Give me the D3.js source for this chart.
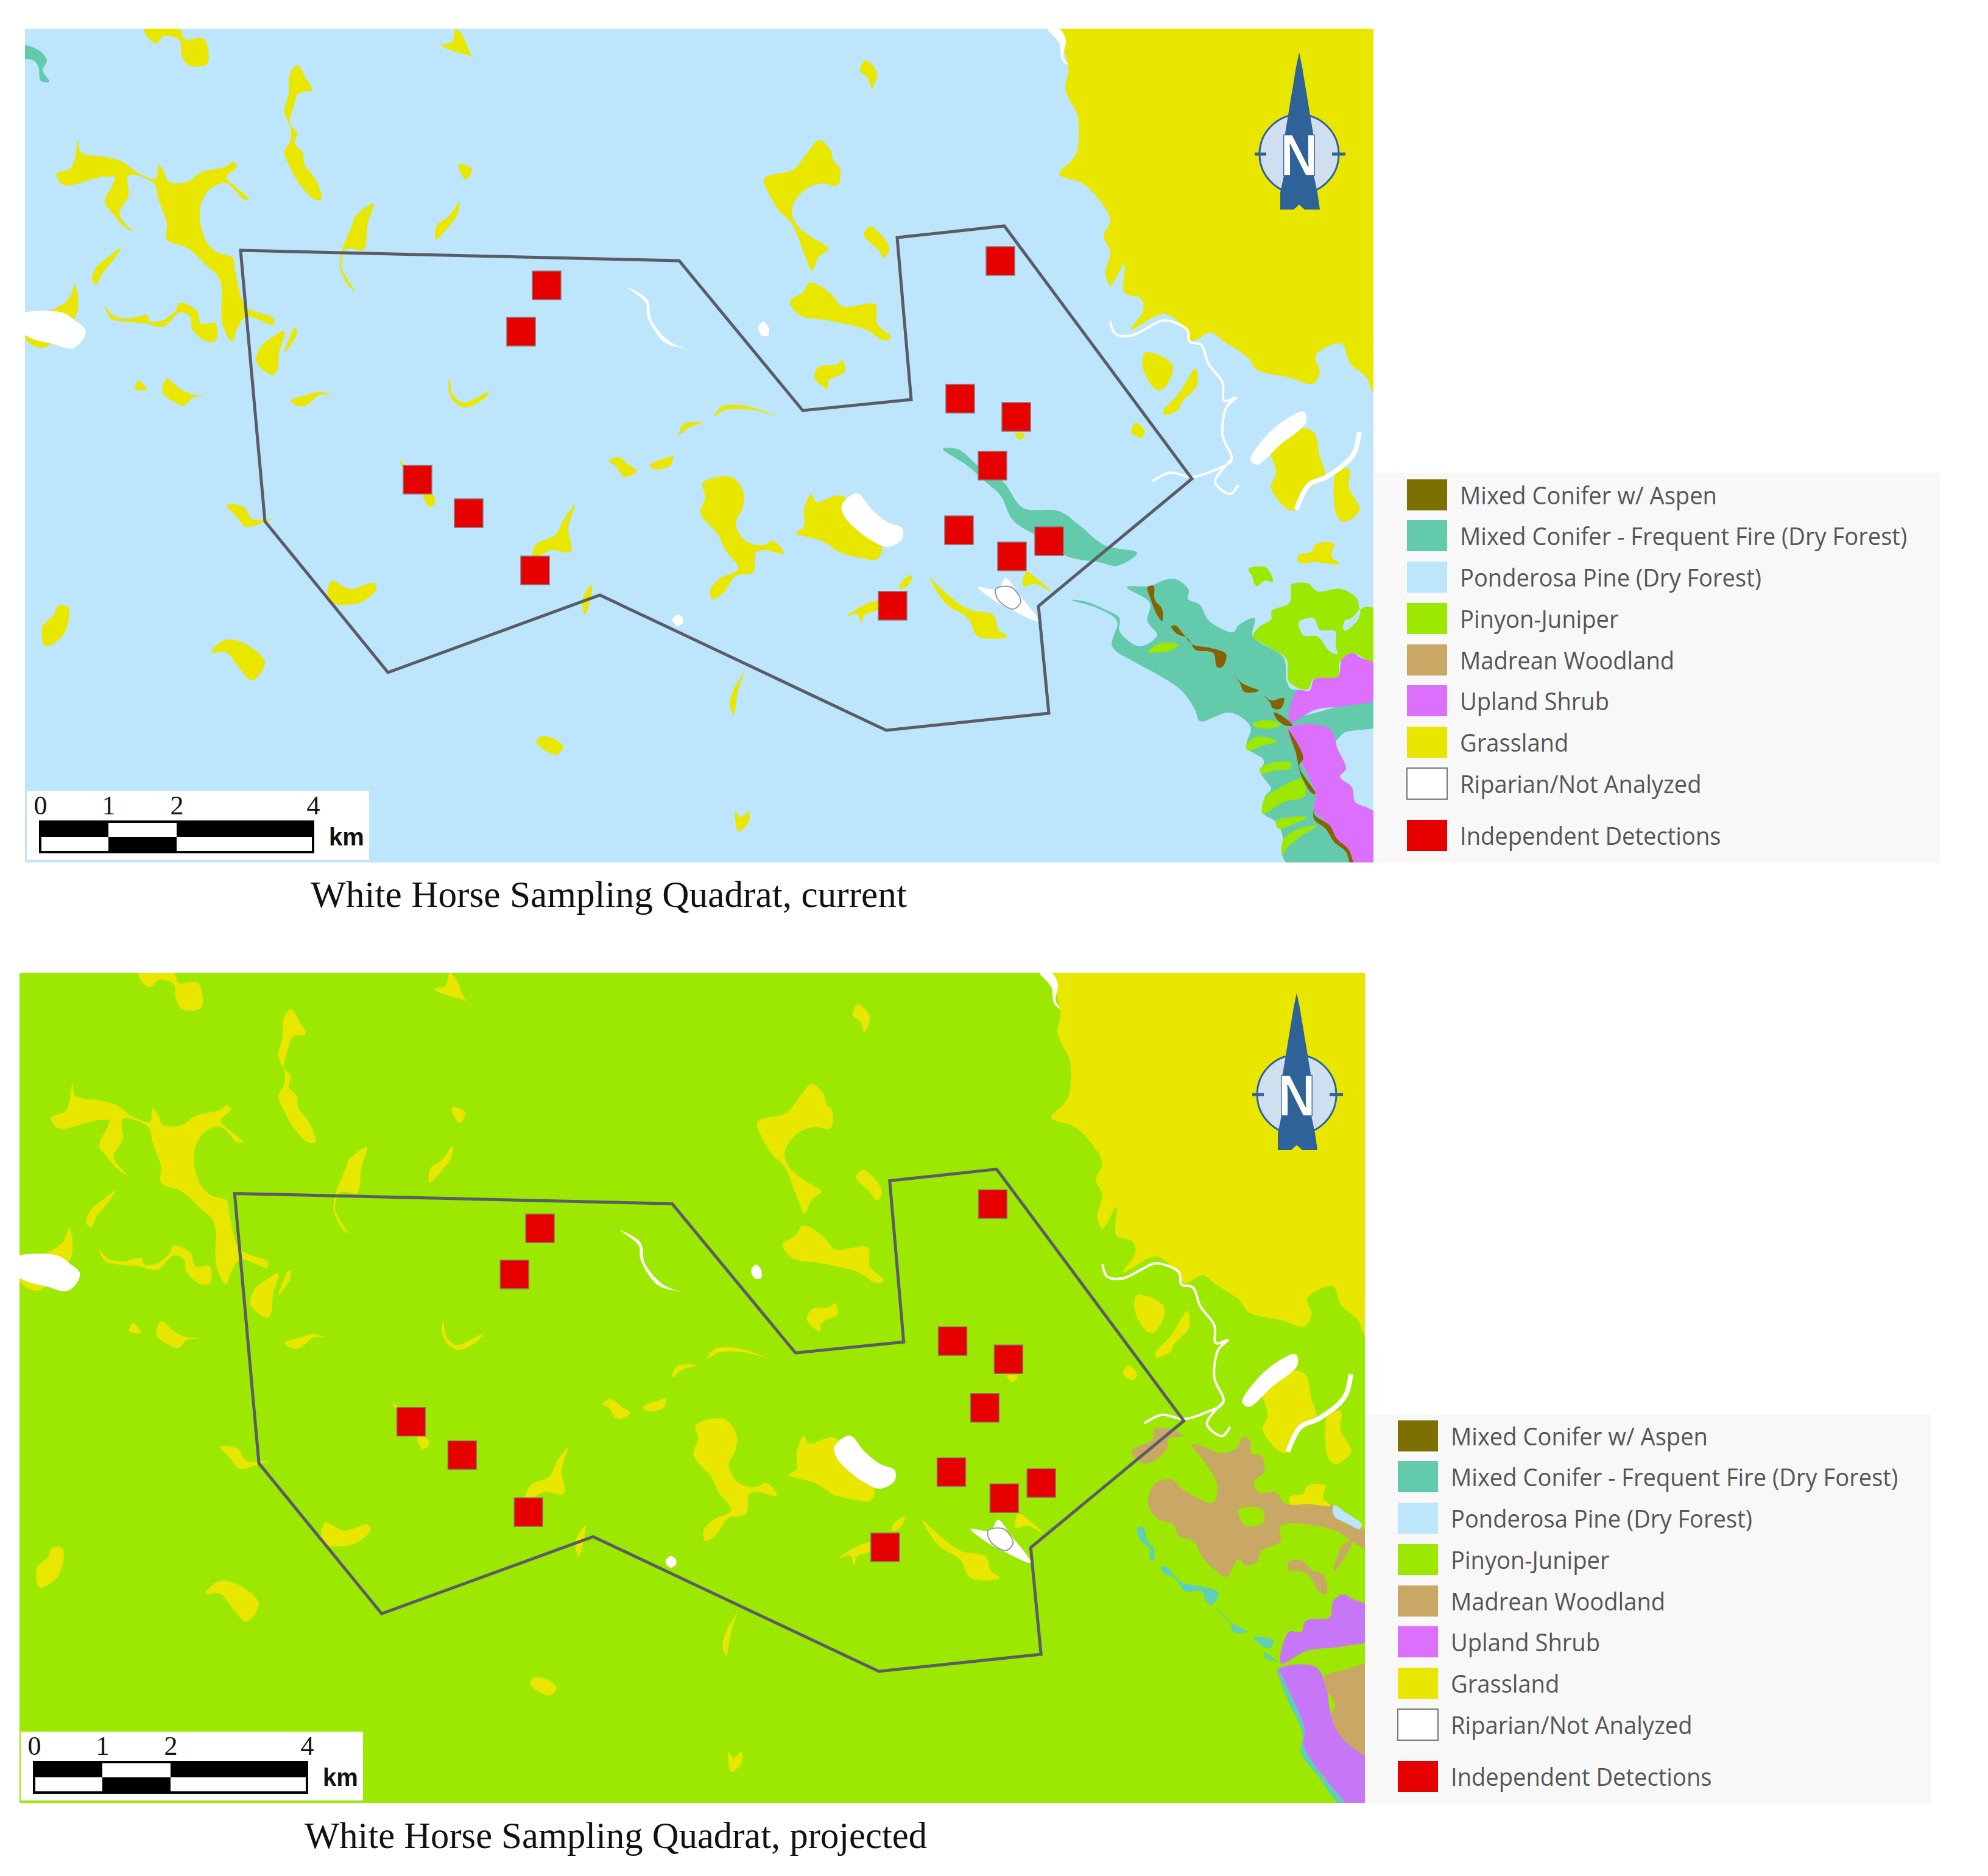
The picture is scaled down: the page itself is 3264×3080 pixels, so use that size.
<!DOCTYPE html>
<html>
<head>
<meta charset="utf-8">
<title>White Horse Sampling Quadrat</title>
<script src="https://cdn.jsdelivr.net/npm/d3@7"></script>
<style>
  html, body { margin: 0; background: #fff; }
  svg { display: block; }
  .caption { font-family: "Liberation Serif", serif; font-size: 62px; fill: #111; }
  .legend-label { font-family: "Open Sans", sans-serif; font-size: 41px; fill: #555; }
  .km-label { font-family: "Liberation Serif", serif; font-size: 44px; fill: #111; }
  .km-unit { font-family: "Liberation Sans", sans-serif; font-size: 40px; font-weight: bold; fill: #111; }
</style>
</head>
<body>
<div id="chart"></div>
<script>
// Legend
const legendLabels = ['Mixed Conifer w/ Aspen', 'Mixed Conifer - Frequent Fire (Dry Forest)', 'Ponderosa Pine (Dry Forest)',
    'Pinyon-Juniper', 'Madrean Woodland', 'Upland Shrub', 'Grassland', 'Riparian/Not Analyzed', 'Independent Detections'];
const legendColors = ['#7b7000', '#63cbac', '#bde5fc', '#9ce800', '#c9a866', '#dc6ffb', '#e9e600', '#ffffff', '#e60000'];
const legendRowY = [812, 879, 947, 1015, 1083, 1150, 1218, 1286, 1371];

const captions = ['White Horse Sampling Quadrat, current', 'White Horse Sampling Quadrat, projected'];
const scaleBarKm = [0, 1, 2, 4];

const quadratBoundary = [[395,411],[1115,428],[1318,674],[1496,656],[1473,390],[1649,371],[1957,786],[1705,995],[1722,1171],[1455,1199],[985,977],[637,1104],[435,856]];

const detections = [[898,469],[856,545],[686,788],[770,843],[879,937],[1643,429],[1577,655],[1669,685],[1630,765],[1575,871],[1723,889],[1662,914],[1466,995]];

const grassland = [
    [[237,48],[295,48],[303,64],[335,64],[340,105],[309,107],[298,89],[295,66],[270,59],[256,71],[242,61]],
    [[749,47],[761,61],[775,92],[787,101],[772,92],[744,84],[724,74],[742,69]],
    [[488,107],[502,128],[512,148],[491,153],[481,179],[476,202],[488,219],[484,235],[497,250],[500,270],[519,296],[528,327],[516,327],[491,301],[477,276],[467,250],[477,230],[477,209],[467,184],[474,153],[476,122]],
    [[128,230],[133,250],[175,258],[200,265],[225,283],[256,293],[260,270],[270,283],[277,298],[309,298],[330,283],[372,273],[382,265],[389,273],[372,291],[386,306],[409,327],[400,327],[372,301],[351,306],[333,327],[328,357],[337,393],[354,413],[382,423],[386,444],[404,503],[449,523],[449,533],[404,520],[389,541],[381,561],[365,531],[361,459],[337,434],[309,408],[274,393],[274,367],[260,327],[253,301],[211,288],[211,321],[196,352],[218,380],[204,372],[182,347],[172,332],[186,301],[189,291],[165,291],[105,304],[93,286],[116,276],[123,260]],
    [[199,406],[189,423],[168,449],[158,467],[151,459],[158,439],[179,421]],
    [[123,467],[112,492],[81,510],[42,515],[42,556],[70,571],[126,515]],
    [[172,503],[186,518],[211,523],[242,518],[246,528],[267,526],[288,510],[295,497],[323,510],[330,531],[354,531],[354,559],[340,561],[316,541],[312,520],[295,513],[270,536],[256,536],[239,531],[204,528],[182,523]],
    [[467,543],[458,580],[456,605],[449,616],[421,594],[428,569],[445,555]],
    [[484,538],[488,545],[481,561],[467,579],[475,555]],
    [[228,625],[241,640],[221,638]],
    [[274,622],[295,638],[316,648],[337,650],[316,653],[302,666],[288,661],[267,645]],
    [[477,658],[505,648],[526,643],[544,649],[526,648],[502,666],[488,666]],
    [[738,620],[744,648],[761,661],[786,651],[804,642],[796,653],[765,669],[747,661],[737,643]],
    [[753,269],[775,278],[765,295],[756,283]],
    [[754,332],[751,352],[730,380],[716,393],[717,370],[737,355]],
    [[613,334],[604,367],[600,403],[596,411],[572,408],[565,413],[561,439],[582,477],[572,469],[558,439],[561,413],[579,367],[582,357]],
    [[1739,47],[1750,92],[1754,117],[1749,143],[1758,168],[1769,189],[1768,250],[1758,265],[1739,286],[1777,301],[1804,327],[1823,362],[1812,388],[1823,413],[1815,449],[1823,469],[1846,434],[1846,480],[1873,490],[1877,510],[1857,541],[1911,515],[1942,536],[1957,559],[1988,546],[2010,561],[2049,587],[2064,607],[2118,620],[2156,630],[2167,610],[2160,584],[2202,564],[2217,597],[2244,620],[2255,645],[2270,645],[2270,30],[1739,30]],
    [[1421,99],[1440,120],[1431,145],[1425,128],[1412,116]],
    [[1345,230],[1364,247],[1368,263],[1379,276],[1375,304],[1349,301],[1326,309],[1307,327],[1300,347],[1307,367],[1330,388],[1360,408],[1345,421],[1333,444],[1322,421],[1300,367],[1280,347],[1264,321],[1255,293],[1303,278],[1326,250]],
    [[1429,372],[1460,406],[1452,423],[1440,408],[1418,385]],
    [[1330,464],[1364,482],[1383,503],[1437,500],[1440,531],[1463,554],[1452,559],[1421,541],[1360,526],[1314,518],[1297,495],[1318,480]],
    [[1383,592],[1387,610],[1360,625],[1359,638],[1337,620],[1345,602],[1372,599]],
    [[1173,684],[1184,668],[1222,666],[1276,684],[1234,673],[1192,673]],
    [[1115,714],[1123,696],[1154,694],[1131,702]],
    [[1014,750],[1032,763],[1046,773],[1025,783],[1011,765],[1000,758]],
    [[1100,750],[1105,748],[1100,765],[1074,770],[1067,763]],
    [[372,829],[400,832],[414,852],[449,852],[432,858],[404,865],[389,849]],
    [[944,829],[933,867],[937,906],[905,903],[884,913],[874,913],[881,893],[912,878],[926,852]],
    [[695,812],[712,814],[714,827],[705,832]],
    [[656,755],[667,765],[680,768],[662,768]],
    [[544,954],[575,967],[614,957],[618,967],[589,990],[540,987]],
    [[972,959],[972,969],[961,1010],[956,985]],
    [[95,995],[112,997],[105,1041],[74,1061],[70,1028],[88,1010]],
    [[368,1051],[396,1054],[435,1087],[414,1117],[393,1097],[372,1071],[347,1071]],
    [[888,1209],[912,1214],[925,1227],[912,1239],[881,1219]],
    [[1200,783],[1220,806],[1220,832],[1208,860],[1224,888],[1253,895],[1270,888],[1287,909],[1253,903],[1241,908],[1237,939],[1208,946],[1187,974],[1170,984],[1166,969],[1183,949],[1212,934],[1191,903],[1179,878],[1150,842],[1158,816],[1154,793]],
    [[1332,811],[1340,824],[1382,814],[1448,898],[1440,918],[1415,916],[1382,908],[1349,888],[1307,875],[1320,865],[1320,837]],
    [[1498,944],[1490,962],[1477,967],[1481,954]],
    [[1390,1013],[1415,995],[1442,987],[1442,1000],[1419,1010],[1415,1023],[1407,1008]],
    [[1527,949],[1548,969],[1589,1000],[1631,1010],[1639,1033],[1654,1045],[1606,1045],[1589,1015],[1552,990]],
    [[1685,939],[1705,952],[1726,972],[1701,959],[1680,962]],
    [[1223,1099],[1212,1133],[1204,1173],[1198,1158],[1204,1133],[1216,1112]],
    [[1229,1332],[1229,1350],[1212,1365],[1208,1332],[1216,1342]],
    [[1880,579],[1911,587],[1926,602],[1911,638],[1899,640],[1877,607]],
    [[1963,605],[1965,633],[1942,658],[1934,673],[1911,681],[1911,673],[1934,648]],
    [[1865,694],[1880,709],[1873,719],[1857,709]],
    [[1666,712],[1683,712],[1675,722]],
    [[2129,704],[2156,709],[2167,750],[2175,781],[2145,806],[2128,837],[2116,837],[2087,801],[2095,776],[2087,740],[2105,725]],
    [[2195,773],[2215,770],[2215,801],[2232,837],[2207,857],[2195,847],[2190,791]],
    [[2161,893],[2190,893],[2186,913],[2199,926],[2161,923],[2132,923],[2132,911],[2153,906]]
];

const riparian = [
    [[30,518],[102,513],[123,526],[140,541],[137,556],[119,572],[84,564],[53,556],[30,541]],
    [[1720,47],[1739,47],[1750,66],[1746,92],[1754,107],[1743,97],[1739,71]],
    [[1030,472],[1063,492],[1070,526],[1100,561],[1131,574],[1123,572],[1091,562],[1063,520],[1060,497]],
    [[1253,528],[1262,538],[1261,551],[1251,551],[1245,538]],
    [[1382,829],[1407,810],[1432,837],[1457,857],[1481,867],[1481,885],[1457,898],[1432,888],[1407,870],[1386,847]],
    [[1606,964],[1639,967],[1651,949],[1672,974],[1705,1020],[1664,1003],[1631,985]],
    [[1104,1018],[1112,1009],[1121,1014],[1121,1023],[1112,1028]],
    [[2141,676],[2144,694],[2102,730],[2064,763],[2053,755],[2076,719],[2110,689]]
];
const riparianOutline = [[1635,967],[1660,964],[1676,987],[1664,1000],[1639,985]];

const rivers = [
    [[1823,528],[1831,548],[1857,551],[1888,536],[1911,526],[1949,541],[1953,561],[1972,566],[1984,597],[2007,628],[2010,658],[2029,653],[2014,668],[2007,714],[2022,755],[1991,773],[1957,783],[1921,776],[1892,790]],
    [[2022,755],[1995,791],[2020,811],[2033,796]],
    [[2232,709],[2225,740],[2215,755],[2178,783],[2149,796],[2128,837]]
];

// Upper map only
const dryForestCurrent = [
    [[30,74],[63,82],[77,99],[70,115],[81,134],[67,133],[63,110],[55,99],[30,94]],
    [[1548,737],[1574,738],[1606,765],[1647,791],[1680,834],[1738,839],[1772,862],[1813,895],[1867,908],[1834,929],[1805,923],[1751,913],[1722,890],[1664,855],[1643,814],[1618,791],[1589,765]],
    [[1850,964],[1888,962],[1913,952],[1933,952],[1952,969],[1950,983],[1970,993],[1983,1017],[2003,1031],[2025,1038],[2033,1027],[2060,1015],[2057,1045],[2107,1079],[2113,1120],[2120,1131],[2133,1134],[2117,1175],[2270,1148],[2270,1189],[2207,1203],[2193,1215],[2180,1196],[2117,1196],[2140,1258],[2160,1303],[2157,1330],[2183,1355],[2193,1379],[2217,1399],[2223,1430],[2127,1430],[2105,1403],[2107,1379],[2097,1351],[2073,1334],[2078,1306],[2087,1296],[2070,1268],[2075,1248],[2047,1227],[2053,1193],[2020,1170],[1970,1184],[1962,1165],[1940,1134],[1900,1107],[1863,1087],[1826,1061],[1834,1020],[1805,1000],[1759,985],[1780,987],[1813,1000],[1838,1015],[1838,1036],[1871,1061],[1900,1043],[1884,1020],[1888,990]]
];
const pinyonCurrent = [
    [[2050,934],[2077,931],[2087,943],[2090,955],[2077,953],[2063,962],[2055,945]],
    [[2120,960],[2123,958],[2148,958],[2163,971],[2202,967],[2228,983],[2233,1000],[2243,996],[2270,1007],[2270,1098],[2233,1077],[2220,1072],[2200,1086],[2197,1110],[2157,1115],[2147,1132],[2117,1120],[2112,1082],[2087,1064],[2057,1045],[2068,1029],[2087,1017],[2088,1003],[2117,990]],
    [[2057,1189],[2077,1182],[2103,1189],[2087,1196],[2063,1194]],
    [[2045,1227],[2057,1212],[2077,1210],[2097,1218],[2073,1224],[2050,1232]],
    [[2068,1263],[2080,1255],[2117,1251],[2120,1261],[2093,1265],[2073,1270]],
    [[2077,1310],[2097,1296],[2137,1279],[2143,1306],[2107,1317],[2073,1336]],
    [[2095,1348],[2147,1341],[2120,1355],[2100,1361]],
    [[2107,1379],[2127,1363],[2163,1355],[2137,1372],[2113,1392],[2105,1404]],
    [[1884,1071],[1900,1058],[1917,1055],[1935,1058],[1920,1069],[1900,1071]]
];
const ponderosaInPinyon = [
    [[2233,1000],[2220,1014],[2207,1020],[2207,1036],[2230,1017]],
    [[2133,1021],[2157,1015],[2167,1034],[2192,1036],[2193,1062],[2197,1074],[2183,1069],[2163,1045],[2140,1043]]
];
const uplandNorth = [[2220,1072],[2233,1079],[2270,1098],[2270,1144],[2217,1158],[2160,1165],[2117,1186],[2130,1134],[2150,1134],[2158,1115],[2197,1110],[2203,1083]];
const uplandCurrent = [[2117,1196],[2180,1194],[2193,1215],[2195,1227],[2210,1262],[2200,1275],[2220,1293],[2225,1317],[2247,1327],[2270,1344],[2270,1430],[2223,1430],[2217,1399],[2193,1379],[2183,1355],[2157,1330],[2160,1303],[2140,1258]];
const aspenCurrent = [
    [[1884,964],[1894,962],[1896,985],[1908,1000],[1908,1020],[1900,1010],[1888,980]],
    [[1923,1029],[1930,1027],[1943,1041],[1958,1058],[1988,1064],[2013,1074],[2007,1095],[1998,1095],[1992,1072],[1963,1067],[1950,1048],[1933,1041]],
    [[2015,1098],[2040,1122],[2067,1134],[2043,1136],[2035,1120]],
    [[2075,1141],[2087,1150],[2108,1146],[2103,1163],[2090,1163],[2085,1153]],
    [[2092,1170],[2103,1174],[2122,1191],[2110,1191],[2095,1179]],
    [[2115,1198],[2140,1244],[2133,1258],[2160,1303],[2155,1303],[2137,1275],[2127,1234]],
    [[2160,1317],[2158,1337],[2183,1355],[2195,1377],[2215,1396],[2223,1430],[2220,1430],[2210,1399],[2190,1382],[2177,1361],[2157,1344]]
];

// Lower map only
const madreanProjected = [
    [[1909,799],[1940,801],[1955,811],[1932,815],[1930,830],[1915,847],[1898,856],[1886,854],[1871,837],[1894,823],[1905,818]],
    [[1970,825],[1993,830],[2016,839],[2043,832],[2054,813],[2066,818],[2068,839],[2085,844],[2089,870],[2072,887],[2081,904],[2108,904],[2125,923],[2200,923],[2211,947],[2238,961],[2270,971],[2270,1002],[2234,985],[2204,966],[2116,959],[2116,985],[2085,1000],[2077,1019],[2058,1024],[2047,1014],[2028,1043],[2016,1038],[1986,1009],[1974,985],[1949,976],[1940,957],[1913,947],[1898,921],[1909,890],[1936,882],[1955,899],[2005,921],[2012,904],[2008,880],[1986,847]],
    [[2204,1033],[2219,990],[2234,985],[2223,1009],[2206,1033]],
    [[2129,1019],[2150,1016],[2169,1033],[2186,1038],[2192,1071],[2179,1067],[2160,1038],[2142,1033],[2131,1033]]
];
const pinyonHoleProjected = [[2047,933],[2070,928],[2087,933],[2087,954],[2058,959]];
const ponderosaProjected = [[2204,925],[2223,937],[2250,957],[2246,964],[2223,954],[2206,945],[2202,935]];
const uplandProjected = [[2112,1196],[2173,1191],[2190,1220],[2200,1272],[2223,1315],[2270,1342],[2270,1430],[2221,1430],[2188,1373],[2156,1339],[2152,1299],[2135,1253],[2119,1220]];
const madreanSouthProjected = [[2188,1208],[2223,1196],[2270,1189],[2270,1339],[2223,1315],[2200,1272],[2206,1253],[2192,1229]];
const dryForestProjected = [
    [[2112,1196],[2127,1224],[2156,1296],[2154,1320],[2185,1371],[2221,1416],[2211,1416],[2179,1373],[2150,1334],[2152,1301],[2131,1253],[2116,1215]],
    [[1880,964],[1890,961],[1898,985],[1907,995],[1907,1016],[1901,1016],[1901,997],[1886,983]],
    [[1919,1028],[1928,1026],[1953,1052],[1986,1059],[2014,1069],[2003,1090],[1993,1083],[1986,1067],[1959,1067],[1940,1043],[1924,1038]],
    [[2009,1093],[2035,1119],[2062,1134],[2039,1134],[2031,1114]],
    [[2072,1143],[2104,1148],[2100,1160],[2087,1158]],
    [[2089,1167],[2112,1184],[2104,1181],[2091,1177]]
];

const width = 3264;
const height = 3080;
const ink = '#2e6299';
const aspenMapColor = '#866200';
const color = d3.scaleOrdinal(legendLabels, legendColors);

const svg = d3.select('#chart')
    .append('svg')
    .attr('width', width)
    .attr('height', height)
    .attr('viewBox', `0 0 ${width} ${height}`);

/**
 * Fills a list of closed outlines in one colour
 */
const drawPatches = (layer, patches, fill, line) => {
    layer.append('g')
        .selectAll('path')
        .data(patches)
        .enter()
        .append('path')
        .attr('d', line)
        .attr('fill', fill);
}

const drawScaleBar = (layer) => {
    const km = d3.scaleLinear().domain([0, 4]).range([66, 514]);
    layer.append('rect')
        .attr('x', 44).attr('y', 1299)
        .attr('width', 562).attr('height', 113)
        .attr('fill', 'white');

    layer.append('g')
        .attr('transform', 'translate(0,1349)')
        .call(d3.axisTop(km).tickValues(scaleBarKm).tickFormat(d3.format('d')).tickSize(0).tickPadding(12))
        .call(g => g.select('.domain').remove())
        .selectAll('text')
        .attr('class', 'km-label')
        .attr('font-family', null)
        .attr('font-size', null)
        .attr('fill', null);

    const segments = d3.pairs(scaleBarKm);
    [0, 1].forEach((row) => {
        layer.append('g')
            .selectAll('rect')
            .data(segments)
            .enter()
            .append('rect')
            .attr('x', d => km(d[0]))
            .attr('y', 1349 + row * 25)
            .attr('width', d => km(d[1]) - km(d[0]))
            .attr('height', 25)
            .attr('fill', (d, i) => (i + row) % 2 === 0 ? 'black' : 'white');
    });
    layer.append('rect')
        .attr('x', km(0)).attr('y', 1349)
        .attr('width', km(4) - km(0)).attr('height', 50)
        .attr('fill', 'none').attr('stroke', 'black').attr('stroke-width', 4);

    layer.append('text')
        .attr('class', 'km-unit')
        .attr('x', 540).attr('y', 1388)
        .text('km');
}

const drawNorthArrow = (layer) => {
    layer.append('circle')
        .attr('cx', 2133).attr('cy', 253).attr('r', 65)
        .attr('fill', '#cfdff0').attr('stroke', ink).attr('stroke-width', 3);
    layer.append('path')
        .attr('d', 'M2060,253H2079M2187,253H2209')
        .attr('stroke', ink).attr('stroke-width', 5);
    layer.append('path')
        .attr('d', 'M2133,86L2138,110L2156,219L2157,288L2163,316L2167,344L2142,344L2133,336L2124,344L2102,344L2102,316L2108,288L2110,219L2128,110Z')
        .attr('fill', ink);
    layer.append('text')
        .attr('x', 2133).attr('y', 288)
        .attr('text-anchor', 'middle')
        .attr('font-family', '"Liberation Sans", sans-serif')
        .attr('font-weight', 'bold')
        .attr('font-size', 97)
        .attr('textLength', 62)
        .attr('lengthAdjust', 'spacingAndGlyphs')
        .attr('fill', 'white')
        .attr('stroke', ink)
        .attr('stroke-width', 1.5)
        .text('N');
}

const drawLegend = (layer) => {
    layer.append('rect')
        .attr('x', 2256).attr('y', 777)
        .attr('width', 929).attr('height', 640)
        .attr('fill', '#f8f8f8');

    const rows = layer.selectAll('g.row')
        .data(legendLabels)
        .enter()
        .append('g')
        .attr('class', 'row')
        .attr('transform', (d, i) => `translate(0,${legendRowY[i]})`);

    rows.append('rect')
        .attr('x', 2310).attr('y', -25)
        .attr('width', 66).attr('height', 51)
        .attr('fill', d => color(d))
        .attr('stroke', d => d === 'Riparian/Not Analyzed' ? '#777' : 'none')
        .attr('stroke-width', 2);

    rows.append('text')
        .attr('class', 'legend-label')
        .attr('transform', 'translate(2397,16) scale(0.93,1)')
        .text(d => d);
}

const panels = [
    { id: 'current', x: [41, 2255], y: [47, 1416], background: 'Ponderosa Pine (Dry Forest)', captionX: 510, captionY: 1489, captionW: 979, legendAt: [0, 0], barAt: [0, 0], northAt: [0, 0] },
    { id: 'projected', x: [32, 2241], y: [1597, 2960], background: 'Pinyon-Juniper', captionX: 500, captionY: 3034, captionW: 1022, legendAt: [-15, 1545], barAt: [-10, 1544], northAt: [-4, 1544] }
];

panels.forEach((panel, p) => {
    const x = d3.scaleLinear().domain([41, 2255]).range(panel.x);
    const y = d3.scaleLinear().domain([47, 1416]).range(panel.y);
    const closed = d3.line().x(d => x(d[0])).y(d => y(d[1])).curve(d3.curveCatmullRomClosed.alpha(0.5));
    const open = d3.line().x(d => x(d[0])).y(d => y(d[1])).curve(d3.curveCatmullRom.alpha(0.5));
    const straight = d3.line().x(d => x(d[0])).y(d => y(d[1])).curve(d3.curveLinearClosed);

    svg.append('clipPath')
        .attr('id', `clip-${panel.id}`)
        .append('rect')
        .attr('x', panel.x[0]).attr('y', panel.y[0])
        .attr('width', panel.x[1] - panel.x[0]).attr('height', panel.y[1] - panel.y[0]);

    const map = svg.append('g').attr('clip-path', `url(#clip-${panel.id})`);

    map.append('rect')
        .attr('x', panel.x[0]).attr('y', panel.y[0])
        .attr('width', panel.x[1] - panel.x[0]).attr('height', panel.y[1] - panel.y[0])
        .attr('fill', color(panel.background));

    if (panel.id === 'current') {
        drawPatches(map, dryForestCurrent, color(legendLabels[1]), closed);
        drawPatches(map, pinyonCurrent, color('Pinyon-Juniper'), closed);
        drawPatches(map, ponderosaInPinyon, color(panel.background), closed);
        drawPatches(map, [uplandNorth, uplandCurrent], color('Upland Shrub'), closed);
        drawPatches(map, aspenCurrent, aspenMapColor, closed);
    }
    else {
        drawPatches(map, madreanProjected, color('Madrean Woodland'), closed);
        drawPatches(map, [pinyonHoleProjected], color(panel.background), closed);
        drawPatches(map, [ponderosaProjected], color(legendLabels[2]), closed);
        drawPatches(map, [uplandNorth, uplandProjected], '#c876f8', closed);
        drawPatches(map, [madreanSouthProjected], color('Madrean Woodland'), closed);
        drawPatches(map, dryForestProjected, '#5fcfb8', closed);
    }

    drawPatches(map, grassland, color('Grassland'), closed);
    drawPatches(map, riparian, 'white', closed);

    map.append('path')
        .attr('d', closed(riparianOutline))
        .attr('fill', 'white').attr('stroke', '#999').attr('stroke-width', 2);

    map.append('g')
        .selectAll('path')
        .data(rivers)
        .enter()
        .append('path')
        .attr('d', open)
        .attr('fill', 'none')
        .attr('stroke', 'white')
        .attr('stroke-width', (d, i) => i === 2 ? 8 : 4)
        .attr('stroke-linejoin', 'round');

    map.append('path')
        .attr('d', straight(quadratBoundary))
        .attr('fill', 'none')
        .attr('stroke', '#5a5d68')
        .attr('stroke-width', 5)
        .attr('stroke-linejoin', 'miter');

    map.append('g')
        .selectAll('rect')
        .data(detections)
        .enter()
        .append('rect')
        .attr('x', d => x(d[0]) - 24)
        .attr('y', d => y(d[1]) - 24)
        .attr('width', 47)
        .attr('height', 47)
        .attr('fill', color('Independent Detections'))
        .attr('stroke', '#8a7a7a')
        .attr('stroke-width', 1.5);

    drawScaleBar(svg.append('g').attr('transform', `translate(${panel.barAt})`));
    drawNorthArrow(svg.append('g').attr('transform', `translate(${panel.northAt})`));
    drawLegend(svg.append('g').attr('transform', `translate(${panel.legendAt})`));

    svg.append('text')
        .attr('class', 'caption')
        .attr('x', panel.captionX)
        .attr('y', panel.captionY)
        .attr('textLength', panel.captionW)
        .attr('lengthAdjust', 'spacingAndGlyphs')
        .text(captions[p]);
});
</script>
</body>
</html>
